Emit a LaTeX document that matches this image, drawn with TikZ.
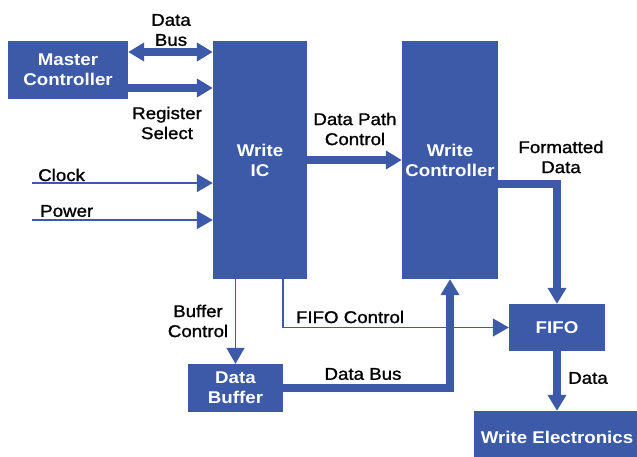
\documentclass[tikz,border=0pt]{standalone}
\usepackage{fontspec}
\setmainfont{Liberation Sans}[FakeStretch=1.1]
\newfontfamily\lblfont{Liberation Sans}[FakeStretch=1.1, FakeBold=1.2]
\usetikzlibrary{arrows.meta}
\definecolor{hpblue}{RGB}{60,90,168}

\begin{document}
\begin{tikzpicture}[x=1pt, y=-1pt,
		>={Triangle[width=18pt,length=16pt]},
		block/.style={fill=hpblue, text=white, inner sep=0pt, align=center,
			font=\fontsize{17}{20}\selectfont\bfseries},
		lbl/.style={text=black, inner sep=0pt, align=center,
			font=\lblfont\fontsize{17}{20}\selectfont},
		bus/.style={draw=hpblue, line width=8pt, ->},
		sig/.style={draw=hpblue, line width=1.5pt, ->}]

		% Page frame
		\useasboundingbox (0,0) rectangle (637,457);

		% Blocks
		\node[block, minimum width=120, minimum height=58] (mc) at (68,70) {Master\\Controller};
		\node[block, minimum width=94, minimum height=238] (wic) at (260,160) {Write\\IC};
		\node[block, minimum width=96, minimum height=238] (wc) at (450,160) {Write\\Controller};
		\node[block, minimum width=96, minimum height=47] (fifo) at (557,327.5) {FIFO};
		\node[block, minimum width=95, minimum height=48] (db) at (235.5,388) {Data\\Buffer};
		\node[block, minimum width=166, minimum height=52] (we) at (557,437) {Write Electronics};

		% Master controller to write IC
		\coordinate (dbus) at ([yshift=18pt]mc.east);
		\coordinate (rsel) at ([yshift=-18pt]mc.east);
		\draw[bus, <->] (dbus) -- (dbus -| wic.west);
		\draw[bus] (rsel) -- (rsel -| wic.west);
		\node[lbl] (dbuslbl) at (171,30) {Data\\Bus};
		\node[lbl] (rsellbl) at (167,123) {Register\\Select};

		% Clock and power inputs
		\coordinate (clk) at (32,183);
		\coordinate (pwr) at (32,220);
		\draw[sig] (clk) -- (clk -| wic.west);
		\draw[sig] (pwr) -- (pwr -| wic.west);
		\node[lbl, anchor=west] (clklbl) at (38,175) {Clock};
		\node[lbl, anchor=west] (pwrlbl) at (40,211) {Power};

		% Write IC outputs
		\draw[bus] (wic.east) -- (wc.west);
		\node[lbl] (dpclbl) at (355,129) {Data Path\\Control};
		\draw[sig] (db.north |- wic.south) -- (db.north);
		\node[lbl] (bclbl) at (198,321) {Buffer\\Control};
		\draw[sig] (wic.south -| db.east) |- (fifo.west);
		\node[lbl] (fclbl) at (350,317) {FIFO Control};

		% Data paths
		\draw[bus] (db.east) -| (wc.south);
		\node[lbl] (lbuslbl) at (363,374) {Data Bus};
		\draw[bus] ([yshift=-24pt]wc.east) -| (fifo.north);
		\node[lbl] (fdlbl) at (561,157) {Formatted\\Data};
		\draw[bus] (fifo.south) -- (we.north);
		\node[lbl] (datalbl) at (588,378) {Data};

	\end{tikzpicture}
\end{document}
